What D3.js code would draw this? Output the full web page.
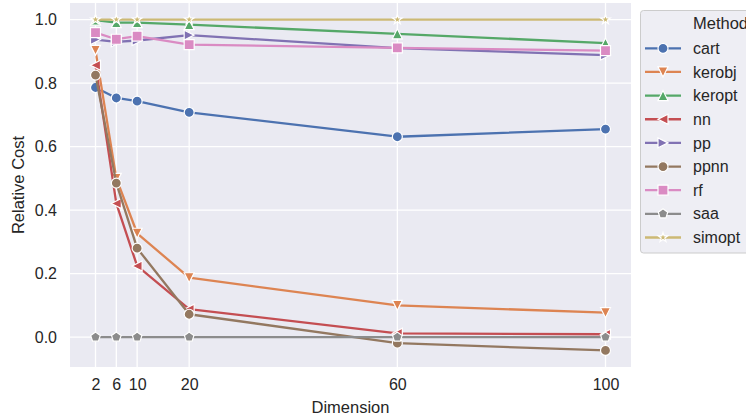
<!DOCTYPE html>
<html>
<head>
<meta charset="utf-8">
<script src="https://cdn.jsdelivr.net/npm/d3@7"></script>
<style>
  html, body { margin: 0; padding: 0; background: #fff; }
  svg { display: block; font-family: "Liberation Sans", Arial, sans-serif; }
</style>
</head>
<body>
<div id="chart"></div>
<script>
// ---- data ----
const dimensions = [2, 6, 10, 20, 60, 100];
const methods = ['cart', 'kerobj', 'keropt', 'nn', 'pp', 'ppnn', 'rf', 'saa', 'simopt'];

const cart   = [0.786, 0.753, 0.743, 0.708, 0.631, 0.655];
const kerobj = [0.903, 0.500, 0.327, 0.187, 0.100, 0.077];
const keropt = [0.998, 0.990, 0.990, 0.984, 0.955, 0.926];
const nn     = [0.856, 0.421, 0.224, 0.088, 0.012, 0.009];
const pp     = [0.937, 0.930, 0.934, 0.951, 0.910, 0.888];
const ppnn   = [0.825, 0.485, 0.280, 0.072, -0.019, -0.042];
const rf     = [0.959, 0.938, 0.948, 0.921, 0.911, 0.902];
const saa    = [0, 0, 0, 0, 0, 0];
const simopt = [1.0, 1.0, 1.0, 1.0, 1.0, 1.0];

const yTicks = [0.0, 0.2, 0.4, 0.6, 0.8, 1.0];
const seriesValues = { cart, kerobj, keropt, nn, pp, ppnn, rf, saa, simopt };

// ---- style ----
const colors = ['#4c72b0', '#dd8452', '#55a868', '#c44e52', '#8172b3', '#937860', '#da8bc3', '#8c8c8c', '#ccb974'];
const markers = ['o', 'v', '^', '<', '>', 'o', 's', 'p', '*'];

const W = 746, H = 417;
const plot = { left: 70, right: 631, top: 3, bottom: 367 };

const svg = d3.select('#chart').append('svg')
    .attr('width', W)
    .attr('height', H);

// margins like matplotlib (5% of data range)
const allY = methods.flatMap(m => seriesValues[m]);
const yMin = d3.min(allY), yMax = d3.max(allY);
const yPad = (yMax - yMin) * 0.05;
const xPad = (d3.max(dimensions) - d3.min(dimensions)) * 0.05;

const x = d3.scaleLinear()
    .domain([d3.min(dimensions) - xPad, d3.max(dimensions) + xPad])
    .range([plot.left, plot.right]);
const y = d3.scaleLinear()
    .domain([yMin - yPad, yMax + yPad])
    .range([plot.bottom, plot.top]);

// background
svg.append('rect')
    .attr('x', plot.left).attr('y', plot.top)
    .attr('width', plot.right - plot.left)
    .attr('height', plot.bottom - plot.top)
    .attr('fill', '#eaeaf2');

// grid
const grid = svg.append('g');
grid.selectAll('line.gx').data(dimensions).enter().append('line')
    .attr('x1', d => x(d)).attr('x2', d => x(d))
    .attr('y1', plot.top).attr('y2', plot.bottom)
    .attr('stroke', '#fff').attr('stroke-width', 1.3);
grid.selectAll('line.gy').data(yTicks).enter().append('line')
    .attr('y1', d => y(d)).attr('y2', d => y(d))
    .attr('x1', plot.left).attr('x2', plot.right)
    .attr('stroke', '#fff').attr('stroke-width', 1.3);

// axes (tick labels only, seaborn darkgrid style)
const xAxis = svg.append('g')
    .attr('transform', `translate(0,${plot.bottom})`)
    .call(d3.axisBottom(x).tickValues(dimensions).tickSize(0).tickPadding(12).tickFormat(d3.format('d')));
const yAxis = svg.append('g')
    .attr('transform', `translate(${plot.left},0)`)
    .call(d3.axisLeft(y).tickValues(yTicks).tickSize(0).tickPadding(13).tickFormat(d3.format('.1f')));
[xAxis, yAxis].forEach(a => {
    a.select('.domain').remove();
    a.selectAll('text')
        .attr('font-family', '"Liberation Sans", Arial, sans-serif')
        .attr('font-size', '16px')
        .attr('fill', '#262626');
});

svg.append('text')
    .attr('x', (plot.left + plot.right) / 2)
    .attr('y', 413)
    .attr('text-anchor', 'middle')
    .attr('font-size', '16.5px')
    .attr('fill', '#262626')
    .text('Dimension');

svg.append('text')
    .attr('transform', `translate(24,${(plot.top + plot.bottom) / 2}) rotate(-90)`)
    .attr('text-anchor', 'middle')
    .attr('font-size', '16.5px')
    .attr('fill', '#262626')
    .text('Relative Cost');

// marker shapes, s = marker size in px
function markerPath(type, s) {
    const h = s / 2;
    const poly = pts => 'M' + pts.map(p => p.join(',')).join('L') + 'Z';
    switch (type) {
        case 'o': return `M${h},0A${h},${h} 0 1,1 ${-h},0A${h},${h} 0 1,1 ${h},0Z`;
        case 'v': return poly([[0, h], [-h, -h], [h, -h]]);
        case '^': return poly([[0, -h], [-h, h], [h, h]]);
        case '<': return poly([[-h, 0], [h, -h], [h, h]]);
        case '>': return poly([[h, 0], [-h, -h], [-h, h]]);
        case 's': return poly([[-h, -h], [h, -h], [h, h], [-h, h]]);
        case 'p': return poly(d3.range(5).map(i => {
            const a = -Math.PI / 2 + i * 2 * Math.PI / 5;
            return [h * Math.cos(a), h * Math.sin(a)];
        }));
        case '*': return poly(d3.range(10).map(i => {
            const a = -Math.PI / 2 + i * Math.PI / 5;
            const r = i % 2 === 0 ? h : h * 0.381966;
            return [r * Math.cos(a), r * Math.sin(a)];
        }));
    }
}

const MS = 10, LW = 2.3;
const line = d3.line().x(d => x(d.x)).y(d => y(d.y));

const series = svg.append('g');
methods.forEach((m, i) => {
    const pts = dimensions.map((d, j) => ({ x: d, y: seriesValues[m][j] }));
    const g = series.append('g');
    g.append('path')
        .attr('d', line(pts))
        .attr('fill', 'none')
        .attr('stroke', colors[i])
        .attr('stroke-width', LW)
        .attr('stroke-linejoin', 'round');
    g.selectAll('path.mk').data(pts).enter().append('path')
        .attr('class', 'mk')
        .attr('transform', d => `translate(${x(d.x)},${y(d.y)})`)
        .attr('d', markerPath(markers[i], MS))
        .attr('fill', colors[i])
        .attr('stroke', '#fff')
        .attr('stroke-width', 1.2);
});

// legend
const legend = svg.append('g');
legend.append('rect')
    .attr('x', 640.5).attr('y', 10.5)
    .attr('width', 160).attr('height', 242.5)
    .attr('rx', 3)
    .attr('fill', '#eeeef4')
    .attr('stroke', '#cccccc')
    .attr('stroke-width', 1);
legend.append('text')
    .attr('x', 693).attr('y', 29)
    .attr('font-size', '16.5px')
    .attr('fill', '#262626')
    .text('Method');

const rowY = d3.scaleLinear().domain([0, methods.length - 1]).range([48.3, 237.5]);
methods.forEach((m, i) => {
    const ry = rowY(i);
    legend.append('line')
        .attr('x1', 645).attr('x2', 681)
        .attr('y1', ry).attr('y2', ry)
        .attr('stroke', colors[i]).attr('stroke-width', LW);
    legend.append('path')
        .attr('transform', `translate(663,${ry})`)
        .attr('d', markerPath(markers[i], MS))
        .attr('fill', colors[i])
        .attr('stroke', '#fff')
        .attr('stroke-width', 1.2);
    legend.append('text')
        .attr('x', 693).attr('y', ry)
        .attr('dy', '0.35em')
        .attr('font-size', '16px')
        .attr('fill', '#262626')
        .text(m);
});
</script>
</body>
</html>
